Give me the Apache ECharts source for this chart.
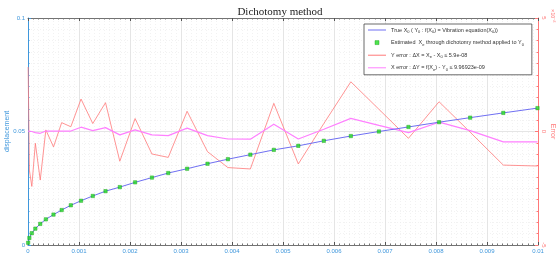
<!DOCTYPE html>
<html>
<head>
    <title>Dichotomy method</title>
    <script src="https://cdnjs.cloudflare.com/ajax/libs/echarts/6.0.0/echarts.min.js"></script>
    <style>
        body { margin: 0; background: #fff; }
        #chart_div { width: 560px; height: 255px; }
    </style>
</head>
<body>
    <div id="chart_div"></div>

    <script>
        // estimated points X_e / Y_0
        const xEst = [0.000003, 0.000027, 0.000075, 0.000144, 0.00024, 0.00035, 0.0005, 0.00066, 0.00084, 0.00104,
                      0.00127, 0.00152, 0.0018, 0.0021, 0.00243, 0.00275, 0.00312, 0.00352, 0.00392, 0.00436,
                      0.00482, 0.0053, 0.0058, 0.00633, 0.00688, 0.00746, 0.00806, 0.00867, 0.00932, 0.00999];
        const yEst = [0.001, 0.0031, 0.0052, 0.0072, 0.0093, 0.0113, 0.0134, 0.0154, 0.0175, 0.0195,
                      0.0216, 0.0237, 0.0255, 0.0276, 0.0297, 0.0317, 0.0336, 0.0358, 0.0378, 0.0398,
                      0.0419, 0.0437, 0.0459, 0.048, 0.05, 0.052, 0.0541, 0.0561, 0.0582, 0.0603];
        // errors, in units of 1e-8
        const errY = [2.84, -1.7, -2.42, -0.52, -2.14, 0.07, -0.68, 0.39, 0.21, 1.43,
                      0.35, 1.27, -1.31, 0.57, -0.99, -1.14, 0.89, -0.89, -1.59, -1.65,
                      1.24, -1.43, 0.35, 2.19, 0.98, -0.30, 1.31, -0.03, -1.48, -1.52];
        const errX = [0.02, 0.02, 0.0, -0.05, -0.08, 0.02, 0.02, 0.02, 0.02, 0.19,
                      0.04, 0.17, -0.15, 0.07, -0.15, -0.18, 0.15, -0.18, -0.33, -0.34,
                      0.32, -0.33, 0.1, 0.58, 0.27, -0.05, 0.41, 0.04, -0.46, -0.46];
        const xTicks = { min: 0, max: 0.01, interval: 0.001 };
        const yTicks = { min: 0, max: 0.1, interval: 0.05 };
        const errTicks = { min: -5, max: 5, interval: 5 };

        const legendNames = {
            'true': 'True X{s|0} ( Y{s|0} : f(X{s|0}) = Vibration equation(X{s|0}))',
            'est': 'Estimated  X{s|e} through dichotomy method applied to Y{s|0}',
            'yerr': 'Y error : ΔX = X{s|e} - X{s|0} ≤ 5.9e-08',
            'xerr': 'X error : ΔY = f(X{s|e}) - Y{s|0} ≤ 9.96923e-09'
        };

        const blue = '#6f6ff2';
        const axisBlue = '#3f97dc';
        const red = '#ff7878';
        const pink = '#ff80ff';
        const green = '#22dd22';
        const font = 'Liberation Sans';
        const lineIcon = 'path://M0,0L18,0L18,1L0,1Z';
        const boxIcon = 'path://M0,0L4,0L4,4L0,4Z';

        const trueLine = [[0, 0]].concat(xEst.map((x, i) => [x, yEst[i]]));
        const estPts = xEst.map((x, i) => [x, yEst[i]]);
        const yErrPts = xEst.map((x, i) => [x, errY[i]]);
        const xErrPts = xEst.map((x, i) => [x, errX[i]]);

        const myChart = echarts.init(document.getElementById('chart_div'));

        const gridLine = { show: true, lineStyle: { color: '#dedede', width: 0.8 } };
        const minorLine = { show: true, lineStyle: { color: '#ececec', width: 0.7, type: [1, 2] } };

        const option = {
            animation: false,
            title: {
                text: 'Dichotomy method',
                left: 'center',
                top: 2,
                textStyle: { fontFamily: 'Liberation Serif', fontSize: 11, fontWeight: 'normal', color: '#222' }
            },
            legend: {
                orient: 'vertical',
                left: 364,
                top: 24,
                backgroundColor: '#fff',
                borderColor: '#444',
                borderWidth: 0.8,
                padding: [3, 8, 3, 4],
                itemGap: 5.6,
                itemWidth: 18,
                itemHeight: 4,
                symbolKeepAspect: true,
                data: [
                    { name: 'true', icon: lineIcon },
                    { name: 'est', icon: boxIcon, itemStyle: { borderColor: '#159915', borderWidth: 0.5 } },
                    { name: 'yerr', icon: lineIcon },
                    { name: 'xerr', icon: lineIcon }
                ],
                formatter: name => legendNames[name],
                textStyle: {
                    fontFamily: font, fontSize: 5.5, color: '#333',
                    rich: { s: { fontFamily: font, fontSize: 4, padding: [4, 0, 0, 0], color: '#333' } }
                }
            },
            grid: { left: 28, right: 22, top: 18, bottom: 10, containLabel: false, outerBoundsMode: 'none' },
            xAxis: [
                {
                    type: 'value', position: 'bottom',
                    min: xTicks.min, max: xTicks.max, interval: xTicks.interval,
                    axisLine: { onZero: false, lineStyle: { color: '#555', width: 0.8 } },
                    axisTick: { inside: true, length: 3, lineStyle: { color: '#555' } },
                    minorTick: { show: true, splitNumber: 10, length: 1.5, lineStyle: { color: '#777' } },
                    axisLabel: { color: axisBlue, fontFamily: font, fontSize: 6, margin: 3 },
                    splitLine: gridLine,
                    minorSplitLine: minorLine
                },
                {
                    type: 'value', position: 'top',
                    min: xTicks.min, max: xTicks.max, interval: xTicks.interval,
                    axisLine: { onZero: false, lineStyle: { color: '#555', width: 0.8 } },
                    axisTick: { inside: true, length: 3, lineStyle: { color: '#555' } },
                    minorTick: { show: true, splitNumber: 10, length: 1.5, lineStyle: { color: '#777' } },
                    axisLabel: { show: false },
                    splitLine: { show: false }
                }
            ],
            yAxis: [
                {
                    type: 'value', position: 'left',
                    min: yTicks.min, max: yTicks.max, interval: yTicks.interval,
                    name: 'displacement', nameLocation: 'middle', nameGap: 17, nameMoveOverlap: false,
                    nameTextStyle: { color: axisBlue, fontFamily: font, fontSize: 7 },
                    axisLine: { show: true, onZero: false, lineStyle: { color: axisBlue, width: 1 } },
                    axisTick: { inside: true, length: 3, lineStyle: { color: axisBlue } },
                    minorTick: { show: true, splitNumber: 10, length: 1.5, lineStyle: { color: axisBlue } },
                    axisLabel: { color: axisBlue, fontFamily: font, fontSize: 6, margin: 3 },
                    splitLine: gridLine,
                    minorSplitLine: minorLine
                },
                {
                    type: 'value', position: 'right',
                    min: errTicks.min, max: errTicks.max, interval: errTicks.interval,
                    name: 'Error', nameLocation: 'middle', nameGap: 11, nameRotate: -90, nameMoveOverlap: false,
                    nameTextStyle: { color: red, fontFamily: font, fontSize: 7 },
                    axisLine: { show: true, onZero: false, lineStyle: { color: red, width: 1 } },
                    axisTick: { inside: true, length: 3, lineStyle: { color: red } },
                    minorTick: { show: true, splitNumber: 10, length: 1.5, lineStyle: { color: red } },
                    axisLabel: { color: red, fontFamily: font, fontSize: 6, margin: 3, rotate: -90 },
                    splitLine: { show: false }
                }
            ],
            graphic: [
                {
                    type: 'text', x: 556, y: 9, rotation: -Math.PI / 2,
                    style: { text: '×10⁻⁸', fill: red, font: '5.5px Liberation Sans' }
                }
            ],
            series: [
                {
                    name: 'true', type: 'line', xAxisIndex: 0, yAxisIndex: 0,
                    data: trueLine, symbol: 'none', z: 3,
                    lineStyle: { color: blue, width: 1 }, itemStyle: { color: blue }
                },
                {
                    name: 'est', type: 'scatter', xAxisIndex: 0, yAxisIndex: 0,
                    data: estPts, symbol: 'rect', symbolSize: 3.4, z: 4,
                    itemStyle: { color: green, borderColor: '#159915', borderWidth: 0.5 }
                },
                {
                    name: 'yerr', type: 'line', xAxisIndex: 0, yAxisIndex: 1,
                    data: yErrPts, symbol: 'none', z: 2,
                    lineStyle: { color: red, width: 0.8 }, itemStyle: { color: red }
                },
                {
                    name: 'xerr', type: 'line', xAxisIndex: 0, yAxisIndex: 1,
                    data: xErrPts, symbol: 'none', z: 2,
                    lineStyle: { color: pink, width: 1.2 }, itemStyle: { color: pink }
                }
            ]
        };

        myChart.setOption(option);
    </script>
</body>
</html>
